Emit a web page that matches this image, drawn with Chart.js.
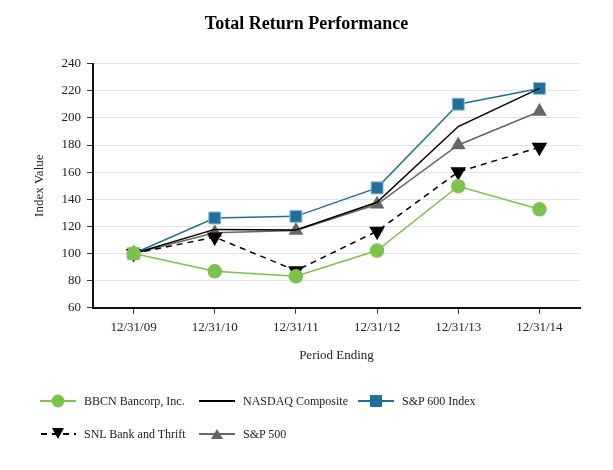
<!DOCTYPE html>
<html>
<head>
<meta charset="utf-8">
<script src="https://cdn.jsdelivr.net/npm/chart.js@4/dist/chart.umd.min.js"></script>
<style>
  body { margin: 0; background: #fff; }
  #wrap { position: relative; width: 613px; height: 470px; }
  #legend { position: absolute; left: 0; top: 0; width: 613px; height: 470px; pointer-events: none;
            font-family: "Liberation Serif", serif; font-size: 12px; color: #222; }
  .item { position: absolute; display: flex; align-items: center; height: 20px; }
  .item svg { margin-right: 8px; }
</style>
</head>
<body>
<div id="wrap">
  <canvas id="chart" width="613" height="470"></canvas>
  <div id="legend"></div>
</div>
<script>
// data
const periods = ['12/31/09', '12/31/10', '12/31/11', '12/31/12', '12/31/13', '12/31/14'];
const bbcn   = [100, 86.9, 83.2, 102.2, 149.6, 132.6];
const nasdaq = [100, 117.8, 117.3, 137.8, 193.6, 221.7];
const sp600  = [100, 126.2, 127.4, 148.4, 210.1, 221.7];
const snl    = [100, 112.1, 87.4, 116.5, 160.2, 178.3];
const sp500  = [100, 115.3, 117.0, 136.3, 180.0, 204.7];
const yTicks = [60, 80, 100, 120, 140, 160, 180, 200, 220, 240];

const GREEN = '#7dc24b', BLUE = '#22709a', GRAY = '#666666', BLACK = '#000000';
const serif = '"Liberation Serif", "Times New Roman", serif';

const series = [
    { label: 'BBCN Bancorp, Inc.', data: bbcn, borderColor: GREEN, backgroundColor: GREEN,
      pointStyle: 'circle', pointRadius: 6.5, pointBorderColor: GREEN, order: 1 },
    { label: 'NASDAQ Composite', data: nasdaq, borderColor: BLACK, backgroundColor: BLACK,
      pointRadius: 0, order: 3 },
    { label: 'S&P 600 Index', data: sp600, borderColor: BLUE, backgroundColor: BLUE,
      pointStyle: 'rect', pointRadius: 8.5, pointBorderColor: '#8fc3dc', pointBorderWidth: 1, order: 4 },
    { label: 'SNL Bank and Thrift', data: snl, borderColor: BLACK, backgroundColor: BLACK,
      borderDash: [6, 5], pointStyle: 'triangle', pointRotation: 180, pointRadius: 7.5, order: 2 },
    { label: 'S&P 500', data: sp500, borderColor: GRAY, backgroundColor: GRAY,
      pointStyle: 'triangle', pointRadius: 7, order: 5 }
];

new Chart(document.getElementById('chart'), {
    type: 'line',
    data: {
        labels: periods,
        datasets: series.map(s => Object.assign({ borderWidth: 1.5, tension: 0, pointHoverRadius: s.pointRadius }, s))
    },
    options: {
        responsive: false,
        animation: false,
        layout: { padding: { top: 0, right: 0, bottom: 103, left: 0 } },
        scales: {
            x: {
                offset: true,
                grid: { display: true, drawOnChartArea: false, tickLength: 6, tickColor: '#333' },
                border: { color: '#111', width: 2 },
                ticks: { color: '#222', font: { family: serif, size: 13 }, padding: 6, maxRotation: 0 },
                title: { display: true, text: 'Period Ending', color: '#222', font: { family: serif, size: 13 }, padding: { top: 6 } }
            },
            y: {
                min: 60, max: 240,
                afterBuildTicks: axis => { axis.ticks = yTicks.map(v => ({ value: v })); },
                afterFit: axis => { axis.width = 93; },
                grid: { color: '#e4e4e4', tickLength: 6, tickColor: '#333' },
                border: { color: '#111', width: 2 },
                ticks: { color: '#222', font: { family: serif, size: 13 }, padding: 6 },
                title: { display: true, text: 'Index Value', color: '#222', font: { family: serif, size: 13 }, padding: { top: 32, bottom: 0 } }
            },
            // blank right-hand axis: only reserves the empty strip right of the plot
            yRight: {
                position: 'right', min: 60, max: 240,
                afterFit: axis => { axis.width = 33; },
                grid: { drawOnChartArea: false, display: false },
                border: { display: false },
                ticks: { display: false }
            }
        },
        plugins: {
            legend: { display: false },
            tooltip: { enabled: false },
            title: {
                display: true, text: 'Total Return Performance', color: '#000',
                font: { family: serif, size: 18, weight: 'bold' },
                padding: { top: 14, bottom: 28 }
            }
        }
    }
});

// legend built by hand so each key shows line + marker like the original
const legendPos = [[40, 401], [199, 401], [358, 401], [40, 434], [199, 434]];
const legendEl = document.getElementById('legend');
series.forEach((s, i) => {
    let mark = '';
    if (s.pointStyle === 'circle') mark = `<circle cx="18" cy="10" r="6.5" fill="${s.backgroundColor}"/>`;
    if (s.pointStyle === 'rect') mark = `<rect x="12" y="4" width="12" height="12" fill="${s.backgroundColor}"/>`;
    if (s.pointStyle === 'triangle' && s.pointRotation) mark = `<polygon points="12,4 24,4 18,15" fill="${s.backgroundColor}"/>`;
    else if (s.pointStyle === 'triangle') mark = `<polygon points="12,15 24,15 18,5" fill="${s.backgroundColor}"/>`;
    const dash = s.borderDash ? 'stroke-dasharray="6 5" stroke-dashoffset="-1"' : '';
    const div = document.createElement('div');
    div.className = 'item';
    div.style.left = legendPos[i][0] + 'px';
    div.style.top = (legendPos[i][1] - 10) + 'px';
    div.innerHTML = `<svg width="36" height="20"><line x1="0" y1="10" x2="36" y2="10" stroke="${s.borderColor}" stroke-width="2" ${dash}/>${mark}</svg><span>${s.label}</span>`;
    legendEl.appendChild(div);
});
</script>
</body>
</html>
